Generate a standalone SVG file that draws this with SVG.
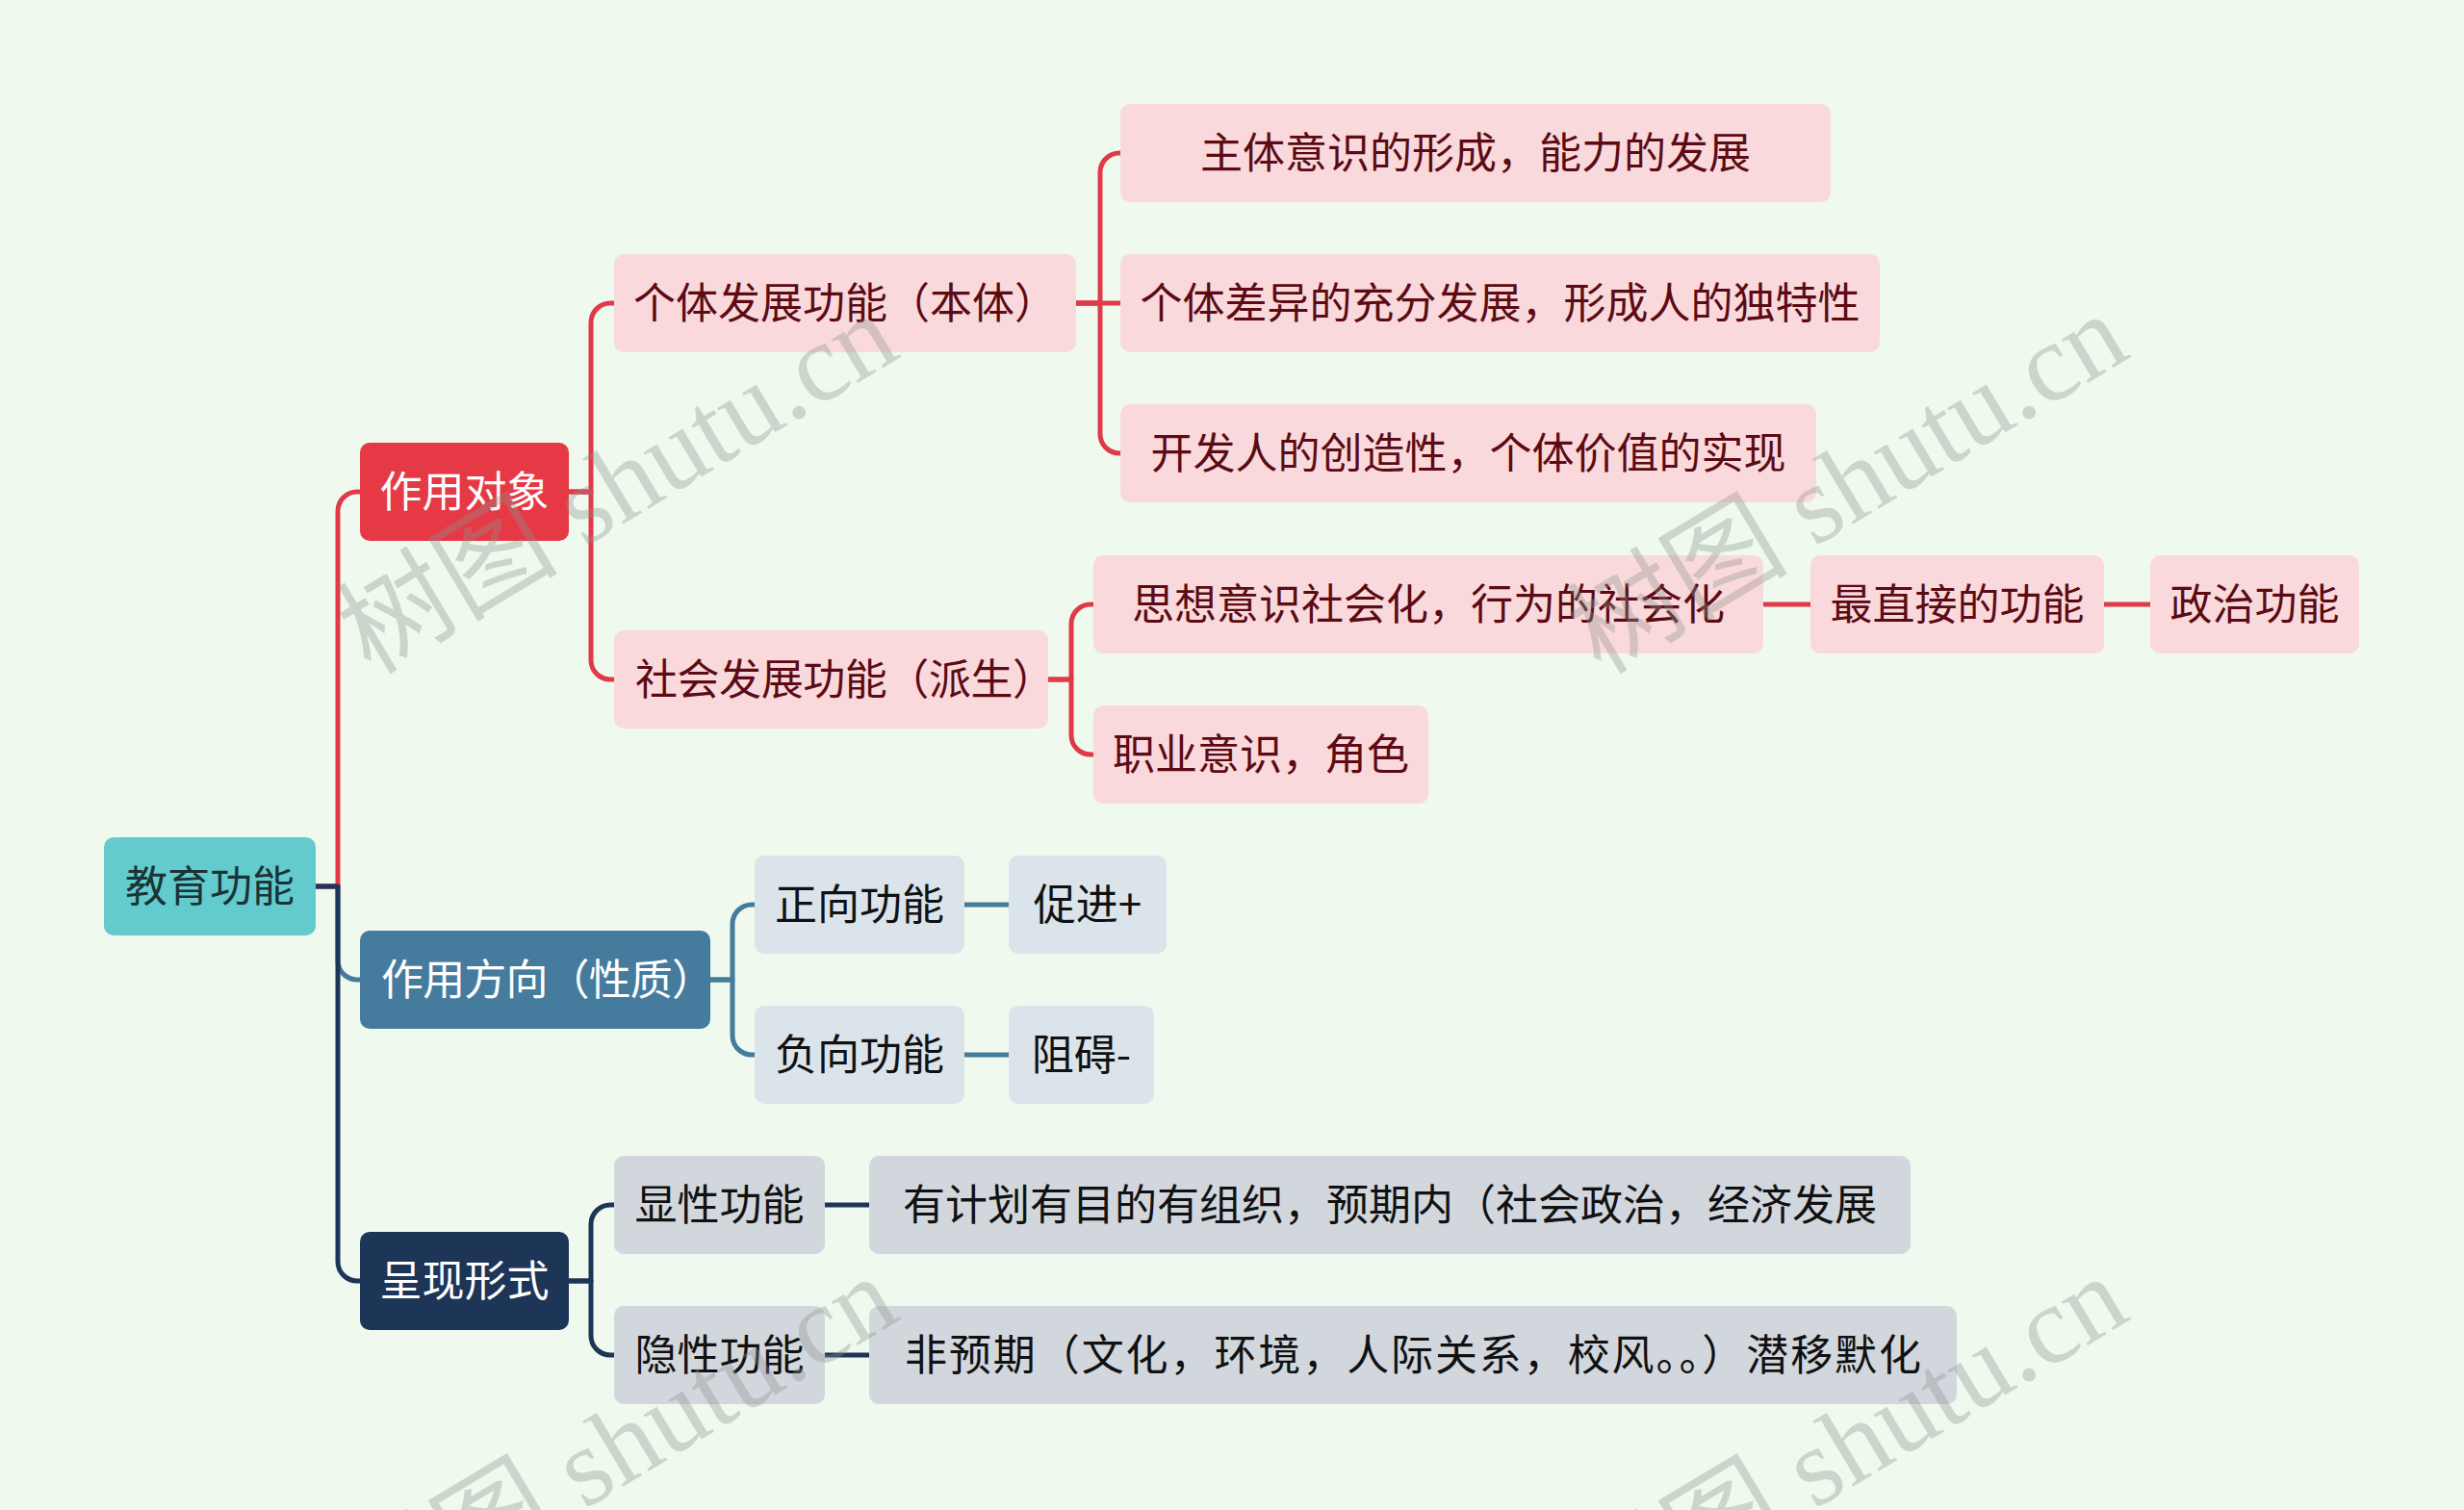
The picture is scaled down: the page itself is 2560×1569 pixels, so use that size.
<svg xmlns="http://www.w3.org/2000/svg" width="2560" height="1569" viewBox="0 0 2560 1569">
<style>
.t{font-family:"Noto Sans CJK SC","Noto Sans",sans-serif;font-size:44px;text-anchor:middle}
.box{rx:10;ry:10}
.root rect{fill:#63cbcd}.root text{fill:#1a3336}
.l1r rect{fill:#e63946}.l1b rect{fill:#457b9d}.l1n rect{fill:#1d3557}
.l1r text,.l1b text,.l1n text{fill:#ffffff}
.pk rect{fill:#fad9dc}.pk text{fill:#5c0b14}
.lb rect{fill:#dae4ea}.lb text{fill:#111111}
.gy rect{fill:#d2d7de}.gy text{fill:#111111}
.c{fill:none;stroke-width:5;stroke-linejoin:round}
.cr{stroke:#e03a48}.cb{stroke:#457b9d}.cn{stroke:#1d3557}
.wm{font-family:"Liberation Serif","Noto Sans CJK SC",serif;font-size:115px;fill:#8c938c;opacity:0.35}
</style>
<rect width="2560" height="1569" fill="#eff9ee"/>
<g id="connectors">
<path class="c cb" d="M328,921 H351 V998 A20,20 0 0 0 371,1018 H374"/>
<path class="c cb" d="M738,1018 H761 V960 A20,20 0 0 1 781,940 H784"/>
<path class="c cb" d="M738,1018 H761 V1076 A20,20 0 0 0 781,1096 H784"/>
<path class="c cb" d="M1002,940 H1048"/>
<path class="c cb" d="M1002,1096 H1048"/>
<path class="c cr" d="M328,921 H351 V531 A20,20 0 0 1 371,511 H374"/>
<path class="c cr" d="M591,511 H614 V335 A20,20 0 0 1 634,315 H638"/>
<path class="c cr" d="M591,511 H614 V686 A20,20 0 0 0 634,706 H638"/>
<path class="c cr" d="M1118,315 H1143 V179 A20,20 0 0 1 1163,159 H1164"/>
<path class="c cr" d="M1118,315 H1164"/>
<path class="c cr" d="M1118,315 H1143 V451 A20,20 0 0 0 1163,471 H1164"/>
<path class="c cr" d="M1089,706 H1113 V648 A20,20 0 0 1 1133,628 H1136"/>
<path class="c cr" d="M1089,706 H1113 V764 A20,20 0 0 0 1133,784 H1136"/>
<path class="c cr" d="M1832,628 H1881"/>
<path class="c cr" d="M2186,628 H2234"/>
<path class="c cn" d="M328,921 H351 V1311 A20,20 0 0 0 371,1331 H374"/>
<path class="c cn" d="M591,1331 H614 V1272 A20,20 0 0 1 634,1252 H638"/>
<path class="c cn" d="M591,1331 H614 V1388 A20,20 0 0 0 634,1408 H638"/>
<path class="c cn" d="M857,1252 H903"/>
<path class="c cn" d="M857,1408 H903"/>
</g>
<g id="n-root" class="root"><rect class="box" x="108" y="870" width="220" height="102"/><text class="t" x="218" y="937">教育功能</text></g>
<g id="n-zydx" class="l1r"><rect class="box" x="374" y="460" width="217" height="102"/><text class="t" x="482.5" y="527">作用对象</text></g>
<g id="n-zyfx" class="l1b"><rect class="box" x="374" y="967" width="364" height="102"/><text class="t" x="569" y="1034" textLength="346" lengthAdjust="spacing">作用方向（性质）</text></g>
<g id="n-cxxs" class="l1n"><rect class="box" x="374" y="1280" width="217" height="102"/><text class="t" x="482.5" y="1347">呈现形式</text></g>
<g id="n-gtfz" class="pk"><rect class="box" x="638" y="264" width="480" height="102"/><text class="t" x="878" y="331">个体发展功能（本体）</text></g>
<g id="n-shfz" class="pk"><rect class="box" x="638" y="655" width="451" height="102"/><text class="t" x="878" y="722" textLength="436" lengthAdjust="spacing">社会发展功能（派生）</text></g>
<g id="n-ztys" class="pk"><rect class="box" x="1164" y="108" width="738" height="102"/><text class="t" x="1533" y="175">主体意识的形成，能力的发展</text></g>
<g id="n-gtcy" class="pk"><rect class="box" x="1164" y="264" width="789" height="102"/><text class="t" x="1558.5" y="331">个体差异的充分发展，形成人的独特性</text></g>
<g id="n-kfr" class="pk"><rect class="box" x="1164" y="420" width="723" height="102"/><text class="t" x="1525.5" y="487">开发人的创造性，个体价值的实现</text></g>
<g id="n-sxys" class="pk"><rect class="box" x="1136" y="577" width="696" height="102"/><text class="t" x="1484" y="644">思想意识社会化，行为的社会化</text></g>
<g id="n-zzj" class="pk"><rect class="box" x="1881" y="577" width="305" height="102"/><text class="t" x="2033.5" y="644">最直接的功能</text></g>
<g id="n-zzgn" class="pk"><rect class="box" x="2234" y="577" width="217" height="102"/><text class="t" x="2342.5" y="644">政治功能</text></g>
<g id="n-zyys" class="pk"><rect class="box" x="1136" y="733" width="348" height="102"/><text class="t" x="1310" y="800">职业意识，角色</text></g>
<g id="n-zxgn" class="lb"><rect class="box" x="784" y="889" width="218" height="102"/><text class="t" x="893" y="956">正向功能</text></g>
<g id="n-cj" class="lb"><rect class="box" x="1048" y="889" width="164" height="102"/><text class="t" x="1130" y="956">促进+</text></g>
<g id="n-fxgn" class="lb"><rect class="box" x="784" y="1045" width="218" height="102"/><text class="t" x="893" y="1112">负向功能</text></g>
<g id="n-za" class="lb"><rect class="box" x="1048" y="1045" width="151" height="102"/><text class="t" x="1123.5" y="1112">阻碍-</text></g>
<g id="n-xxgn" class="gy"><rect class="box" x="638" y="1201" width="219" height="102"/><text class="t" x="747.5" y="1268">显性功能</text></g>
<g id="n-yjh" class="gy"><rect class="box" x="903" y="1201" width="1082" height="102"/><text class="t" x="1444" y="1268">有计划有目的有组织，预期内（社会政治，经济发展</text></g>
<g id="n-yxgn" class="gy"><rect class="box" x="638" y="1357" width="219" height="102"/><text class="t" x="747.5" y="1424">隐性功能</text></g>
<g id="n-fyq" class="gy"><rect class="box" x="903" y="1357" width="1130" height="102"/><text class="t" x="1468" y="1424" textLength="1056" lengthAdjust="spacing">非预期（文化，环境，人际关系，校风。。）潜移默化</text></g>
<g id="watermark">
<text class="wm" transform="translate(385,702) rotate(-31)">树图 shutu.cn</text>
<text class="wm" transform="translate(1663,702) rotate(-31)">树图 shutu.cn</text>
<text class="wm" transform="translate(385,1702) rotate(-31)">树图 shutu.cn</text>
<text class="wm" transform="translate(1663,1702) rotate(-31)">树图 shutu.cn</text>
</g>
</svg>
